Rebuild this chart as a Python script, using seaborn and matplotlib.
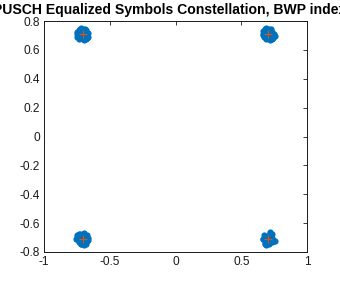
import matplotlib
matplotlib.use("Agg")
import matplotlib.pyplot as plt
import seaborn as sns
import pandas as pd

# Equalized symbols (I / Q) per constellation cluster
tl_i = [-0.737,-0.687,-0.697,-0.722,-0.672,-0.747,-0.702,-0.682,-0.727,-0.707,-0.667,-0.742,-0.692,-0.717,-0.677,-0.732,-0.662,-0.752,-0.697,-0.712,-0.687,-0.737,-0.707,-0.672,-0.722,-0.682,-0.747,-0.702,-0.692,-0.727]
tl_q = [0.717,0.687,0.737,0.697,0.712,0.727,0.672,0.722,0.682,0.747,0.692,0.702,0.732,0.707,0.737,0.677,0.717,0.707,0.667,0.727,0.742,0.737,0.687,0.682,0.752,0.677,0.692,0.717,0.702,0.742]
tr_i = [0.677,0.732,0.717,0.692,0.742,0.667,0.712,0.727,0.687,0.702,0.752,0.672,0.722,0.697,0.737,0.682,0.757,0.662,0.717,0.702,0.727,0.677,0.707,0.742,0.692,0.732,0.667,0.712,0.722,0.687]
tr_q = [0.702,0.727,0.682,0.717,0.692,0.712,0.742,0.672,0.732,0.697,0.712,0.687,0.737,0.722,0.677,0.742,0.697,0.702,0.667,0.727,0.747,0.692,0.737,0.682,0.672,0.712,0.732,0.707,0.687,0.752]
bl_i = [-0.702,-0.742,-0.677,-0.727,-0.687,-0.717,-0.752,-0.667,-0.732,-0.697,-0.712,-0.682,-0.747,-0.672,-0.722,-0.692,-0.737,-0.707,-0.662,-0.727,-0.702,-0.677,-0.742,-0.687,-0.717,-0.757,-0.697,-0.672,-0.732,-0.712]
bl_q = [-0.687,-0.712,-0.727,-0.677,-0.702,-0.742,-0.697,-0.717,-0.732,-0.667,-0.707,-0.692,-0.682,-0.722,-0.747,-0.712,-0.677,-0.737,-0.702,-0.727,-0.672,-0.742,-0.697,-0.717,-0.687,-0.707,-0.752,-0.682,-0.722,-0.692]
br_i = [0.712,0.682,0.737,0.697,0.727,0.667,0.717,0.747,0.692,0.707,0.672,0.742,0.687,0.722,0.702,0.757,0.677,0.732,0.697,0.712,0.662,0.727,0.742,0.687,0.717,0.702,0.677,0.737,0.722,0.692]
br_q = [-0.722,-0.687,-0.702,-0.742,-0.677,-0.712,-0.667,-0.727,-0.697,-0.737,-0.682,-0.717,-0.752,-0.692,-0.707,-0.722,-0.737,-0.672,-0.702,-0.747,-0.712,-0.687,-0.727,-0.717,-0.682,-0.697,-0.742,-0.732,-0.662,-0.707]

# Reference QPSK constellation
ref_i = [-0.7071, 0.7071, -0.7071, 0.7071]
ref_q = [0.7071, 0.7071, -0.7071, -0.7071]

x_ticks = [-1, -0.5, 0, 0.5, 1]
x_labels = ["-1", "-0.5", "0", "0.5", "1"]
y_ticks = [-0.8, -0.6, -0.4, -0.2, 0, 0.2, 0.4, 0.6, 0.8]
y_labels = ["-0.8", "-0.6", "-0.4", "-0.2", "0", "0.2", "0.4", "0.6", "0.8"]
title = "PUSCH Equalized Symbols Constellation, BWP index 1"

sns.set_theme(style="white")
plt.rcParams["font.family"] = ["Liberation Sans", "DejaVu Sans"]

sym = pd.DataFrame({"I": tl_i + tr_i + bl_i + br_i, "Q": tl_q + tr_q + bl_q + br_q})
ref = pd.DataFrame({"I": ref_i, "Q": ref_q})

fig = plt.figure(figsize=(3.4, 2.83), dpi=100)
ax = fig.add_axes([44/340, 1 - 252/283, 263/340, 231/283])

sns.scatterplot(data=sym, x="I", y="Q", ax=ax, color="#0072BD", s=20,
                linewidth=0, marker="o", legend=False)
sns.scatterplot(data=ref, x="I", y="Q", ax=ax, color="#D95319", s=30,
                marker="+", linewidth=0.8, legend=False)

ax.set_xlim(-1, 1)
ax.set_ylim(-0.8, 0.8)
ax.set_xticks(x_ticks)
ax.set_xticklabels(x_labels)
ax.set_yticks(y_ticks)
ax.set_yticklabels(y_labels)
ax.set_xlabel("")
ax.set_ylabel("")
ax.tick_params(direction="in", length=3, width=0.6, top=True, right=True,
               labelsize=8.6, colors="#1a1a1a", pad=3)
for sp in ax.spines.values():
    sp.set_visible(True)
    sp.set_color("#1a1a1a")
    sp.set_linewidth(0.7)
ax.set_title(title, fontsize=10.05, fontweight="bold", color="#000000", pad=5)

fig.savefig("out.png", dpi=100)
